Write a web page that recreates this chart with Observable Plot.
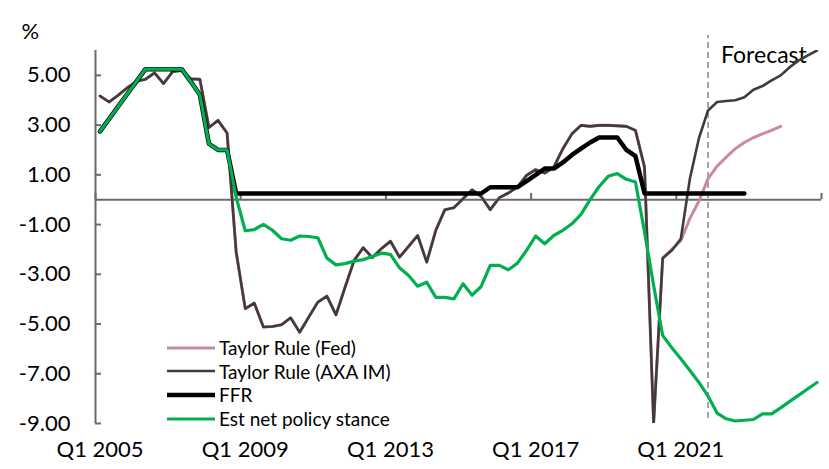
<!DOCTYPE html>
<html><head><meta charset="utf-8">
<script src="https://cdn.jsdelivr.net/npm/d3@7"></script>
<script src="https://cdn.jsdelivr.net/npm/@observablehq/plot@0.6"></script>
<style>
body{margin:0;background:#fff;}
#wrap{position:relative;width:829px;height:469px;font-family:Lato,sans-serif;}
#legend{position:absolute;left:167px;top:336px;font-size:19px;color:#000;}
.row{display:flex;align-items:center;height:23.6px;white-space:nowrap;}
.row svg{width:48px;height:10px;margin-right:4px;flex:none;}
</style></head><body><div id="wrap"><div id="legend"></div></div>
<script>
// Categories: quarters Q1 2005 .. Q4 2024
const quarters = [];
for (let y = 2005; y <= 2024; y++) for (let q = 1; q <= 4; q++) quarters.push(`Q${q} ${y}`);

const xTickLabels = ["Q1 2005", "Q1 2009", "Q1 2013", "Q1 2017", "Q1 2021"];
const yTicks = [5, 3, 1, -1, -3, -5, -7, -9];
const forecastStart = "Q4 2021";
const forecastLabel = "Forecast";
const unitLabel = "%";

const seriesNames = ["Taylor Rule (Fed)", "Taylor Rule (AXA IM)", "FFR", "Est net policy stance"];

const taylorFed = [
  4.17, 3.93, 4.2, 4.5, 4.75, 4.84, 5.1, 4.67, 5.15, 5.2,
  4.86, 4.84, 2.9, 3.19, 2.68, -2.1, -4.38, -4.16, -5.12, -5.1,
  -5.03, -4.75, -5.33, -4.72, -4.12, -3.88, -4.63, -3.52, -2.44, -1.93,
  -2.33, -1.97, -1.67, -2.31, -1.88, -1.44, -2.51, -1.23, -0.4, -0.32,
  0.04, 0.4, 0.13, -0.4, 0.08, 0.27, 0.51, 0.98, 1.21, 1.07,
  1.31, 2.05, 2.65, 2.99, 2.95, 2.99, 2.99, 2.97, 2.95, 2.79,
  1.31, -9.0, -2.35, -2.0, -1.65, -0.75, -0.05, 0.85, 1.35, 1.71,
  2.05, 2.3, 2.5, 2.65, 2.79, 2.95, null, null, null, null
];
const taylorAxa = [
  4.17, 3.93, 4.2, 4.5, 4.75, 4.84, 5.1, 4.67, 5.15, 5.2,
  4.86, 4.84, 2.9, 3.19, 2.68, -2.1, -4.38, -4.16, -5.12, -5.1,
  -5.03, -4.75, -5.33, -4.72, -4.12, -3.88, -4.63, -3.52, -2.44, -1.93,
  -2.33, -1.97, -1.67, -2.31, -1.88, -1.44, -2.51, -1.23, -0.4, -0.32,
  0.04, 0.4, 0.13, -0.4, 0.08, 0.27, 0.51, 0.98, 1.21, 1.07,
  1.31, 2.05, 2.65, 2.99, 2.95, 2.99, 2.99, 2.97, 2.95, 2.79,
  1.31, -9.0, -2.35, -2.04, -1.57, 0.85, 2.48, 3.59, 3.93, 3.97,
  4.0, 4.12, 4.42, 4.57, 4.8, 5.0, 5.33, 5.6, 5.8, 6.0
];
const ffr = [
  2.75, 3.25, 3.75, 4.25, 4.75, 5.25, 5.25, 5.25, 5.25, 5.25,
  4.75, 4.22, 2.25, 2.0, 2.0, 0.25, 0.25, 0.25, 0.25, 0.25,
  0.25, 0.25, 0.25, 0.25, 0.25, 0.25, 0.25, 0.25, 0.25, 0.25,
  0.25, 0.25, 0.25, 0.25, 0.25, 0.25, 0.25, 0.25, 0.25, 0.25,
  0.25, 0.25, 0.25, 0.5, 0.5, 0.5, 0.5, 0.75, 1.0, 1.25,
  1.25, 1.5, 1.8, 2.05, 2.3, 2.5, 2.5, 2.5, 2.0, 1.75,
  0.25, 0.25, 0.25, 0.25, 0.25, 0.25, 0.25, 0.25, 0.25, 0.25,
  0.25, 0.25, null, null, null, null, null, null, null, null
];
const netStance = [
  2.75, 3.25, 3.75, 4.25, 4.75, 5.25, 5.25, 5.25, 5.25, 5.25,
  4.75, 4.22, 2.25, 2.0, 2.0, 0.1, -1.25, -1.2, -0.99, -1.23,
  -1.57, -1.63, -1.46, -1.48, -1.53, -2.35, -2.62, -2.57, -2.47, -2.41,
  -2.28, -2.15, -2.2, -2.74, -3.05, -3.48, -3.32, -3.93, -3.93, -3.99,
  -3.38, -3.84, -3.49, -2.64, -2.64, -2.82, -2.55, -2.04, -1.46, -1.77,
  -1.44, -1.23, -0.97, -0.59, 0.0, 0.53, 0.94, 1.05, 0.82, 0.71,
  -1.3, -3.45, -5.46, -5.95, -6.4, -6.87, -7.35, -7.9, -8.58, -8.81,
  -8.9, -8.87, -8.84, -8.61, -8.61, -8.37, -8.11, -7.86, -7.6, -7.35
];

const colors = ["#C98A9B", "#403B3C", "#000000", "#00B050"];
const widths = [3, 2.6, 4.5, 3.2];
const seriesValues = [taylorFed, taylorAxa, ffr, netStance];
const axisColor = "#6a6a6a";

const xDomain = [-0.5, quarters.length - 0.5];
const xTickPos = xTickLabels.map(l => quarters.indexOf(l) - 0.5).concat([quarters.length - 0.5]);
const forecastIdx = quarters.indexOf(forecastStart);

const rows = seriesValues.map(vals => quarters.map((q, i) => ({i, v: vals[i]})));

const chart = Plot.plot({
  width: 829, height: 469,
  marginLeft: 95, marginRight: 8, marginTop: 50, marginBottom: 46,
  x: {domain: xDomain, axis: null},
  y: {domain: [-9, 6], axis: null},
  style: {fontFamily: "Lato, sans-serif", background: "white", overflow: "visible", color: "#000"},
  marks: [
    Plot.ruleX([xDomain[0]], {y1: -9, y2: 6, stroke: axisColor, strokeWidth: 2}),
    Plot.ruleY(yTicks, {stroke: axisColor, strokeWidth: 2, insetRight: 720}),
    Plot.ruleY([0], {stroke: axisColor, strokeWidth: 2}),
    Plot.ruleX(xTickPos, {y1: 0, y2: 0.25, stroke: axisColor, strokeWidth: 2}),
    Plot.text(yTicks, {y: d => d, text: d => d.toFixed(2), frameAnchor: "left", textAnchor: "end", dx: -25, fontSize: 22, fill: "#000"}),
    Plot.text(xTickLabels, {x: d => quarters.indexOf(d), text: d => d, frameAnchor: "bottom", dy: 33, fontSize: 22, fill: "#000"}),
    Plot.text([unitLabel], {text: d => d, frameAnchor: "top-left", textAnchor: "start", dx: -74, dy: -27, fontSize: 22, fill: "#000"}),
    Plot.ruleX([forecastIdx], {y1: -8.8, y2: 6.6, stroke: "#888", strokeWidth: 1.5, strokeDasharray: "6,4"}),
    Plot.text([forecastLabel], {x: forecastIdx, text: d => d, frameAnchor: "top", textAnchor: "start", dx: 13, dy: -4, fontSize: 23, fill: "#000"}),
    ...rows.map((r, k) => Plot.line(r, {x: "i", y: "v", stroke: colors[k], strokeWidth: widths[k], clip: true}))
  ]
});
document.getElementById("wrap").prepend(chart);

const legend = document.getElementById("legend");
seriesNames.forEach((name, k) => {
  const row = document.createElement("div");
  row.className = "row";
  row.innerHTML = `<svg viewBox="0 0 48 10"><line x1="0" y1="5" x2="48" y2="5" stroke="${colors[k]}" stroke-width="${widths[k]}" stroke-linecap="round"/></svg><span>${name}</span>`;
  legend.appendChild(row);
});
</script></body></html>
